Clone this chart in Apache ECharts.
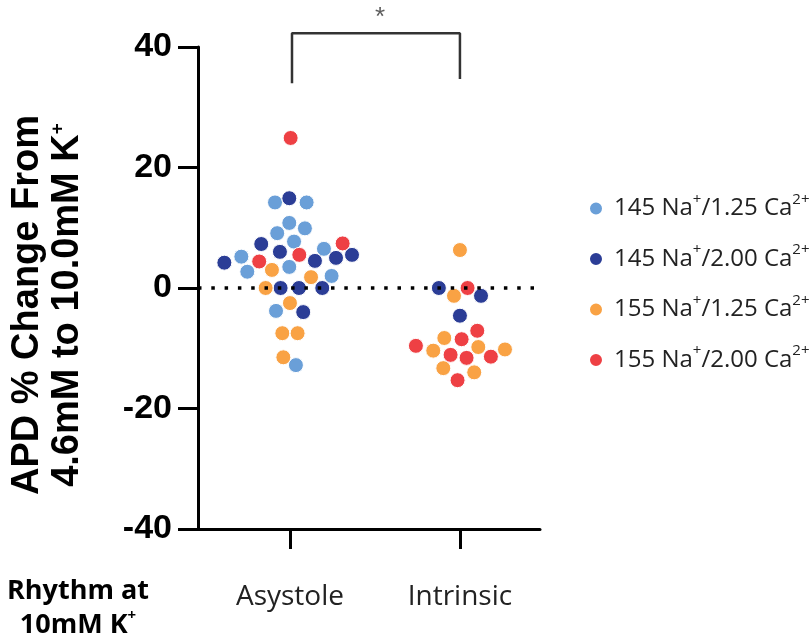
<!DOCTYPE html>
<html>
<head>
<meta charset="utf-8">
<script src="https://cdn.jsdelivr.net/npm/echarts@6/dist/echarts.min.js"></script>
<style>html,body{margin:0;padding:0;background:#fff}#c{width:809px;height:642px}</style>
</head>
<body>
<div id="c"></div>
<script>
// Categories (x positions 1 and 2); points jittered horizontally as in the beeswarm
const categories = ['Asystole', 'Intrinsic'];
const seriesNames = ['145 Na+/1.25 Ca2+', '145 Na+/2.00 Ca2+', '155 Na+/1.25 Ca2+', '155 Na+/2.00 Ca2+'];
const seriesColors = ['#6a9fd8', '#2b3d96', '#f9a244', '#ee4044'];
const yTicks = [-40, -20, 0, 20, 40];

// [x (category position + jitter), APD % change]
const na145ca125 = [
  [0.912, 14.2], [1.098, 14.2], [0.996, 10.8], [0.925, 9.1], [1.088, 9.9],
  [1.024, 7.7], [1.200, 6.5], [0.714, 5.2], [0.749, 2.7], [0.996, 3.5],
  [1.245, 2.0], [0.918, -3.8], [1.035, -12.8]
];
const na145ca200 = [
  [0.996, 14.9], [0.831, 7.3], [0.941, 6.0], [1.147, 4.5], [1.271, 5.0],
  [1.365, 5.5], [0.614, 4.2], [0.945, 0.0], [1.053, 0.0], [1.190, 0.0],
  [1.078, -4.0],
  [1.876, 0.0], [2.124, -1.3], [2.000, -4.6]
];
const na155ca125 = [
  [0.894, 3.0], [1.124, 1.8], [0.857, 0.0], [1.000, -2.5], [0.955, -7.5],
  [1.045, -7.5], [0.961, -11.5],
  [2.000, 6.3], [1.965, -1.3], [1.908, -8.3], [1.843, -10.4], [2.108, -9.8],
  [2.265, -10.2], [1.902, -13.3], [2.084, -14.0]
];
const na155ca200 = [
  [1.004, 24.9], [1.310, 7.4], [1.055, 5.5], [0.819, 4.4],
  [2.045, 0.0], [2.102, -7.1], [2.010, -8.5], [1.741, -9.6], [1.945, -11.1],
  [2.039, -11.6], [2.182, -11.4], [1.986, -15.3]
];
const seriesData = [na145ca125, na145ca200, na155ca125, na155ca200];

// x-axis extent and zero reference line
const xMin = 0.459, xMax = 2.471;
const zeroLine = [[xMin, 0], [xMax, 0]];

// significance bracket between the two groups
const bracket = [[1.012, 34.0], [1.012, 42.3], [2.0, 42.3], [2.0, 34.7]];
const starPos = [[1.53, 44.8]];

const chart = echarts.init(document.getElementById('c'), null, {renderer: 'canvas'});

const scatterSeries = seriesData.map((d, i) => ({
  type: 'scatter',
  name: seriesNames[i],
  data: d,
  symbol: 'circle',
  symbolSize: 15,
  itemStyle: {color: seriesColors[i], borderColor: '#fff', borderWidth: 1, opacity: 1},
  z: 2 + i
}));

chart.setOption({
  animation: false,
  backgroundColor: '#fff',
  grid: {left: 198, top: 47, right: 269, bottom: 113},
  xAxis: {
    type: 'value',
    min: xMin, max: xMax,
    axisLine: {show: true, onZero: false, lineStyle: {color: '#000', width: 3}},
    axisTick: {show: true, customValues: [1, 2], length: 20, lineStyle: {color: '#000', width: 3}},
    axisLabel: {
      show: true, customValues: [1, 2], margin: 54,
      formatter: v => categories[Math.round(v) - 1],
      fontFamily: 'Open Sans', fontSize: 28, color: '#222'
    },
    splitLine: {show: false}
  },
  yAxis: {
    type: 'value',
    min: -40, max: 40, interval: 20,
    axisLine: {show: true, onZero: false, lineStyle: {color: '#000', width: 3}},
    axisTick: {show: true, length: 20, lineStyle: {color: '#000', width: 3}},
    axisLabel: {
      margin: 26, fontFamily: 'Liberation Sans', fontWeight: 'bold', fontSize: 34, color: '#000'
    },
    splitLine: {show: false},
    name: '{t|APD % Change From}\n{t|4.6mM to 10.0mM K}{ts|+}',
    nameLocation: 'middle',
    nameRotate: 90,
    nameGap: 110,
    nameTextStyle: {
      padding: [0, 34, 0, 0],
      rich: {
        t: {fontFamily: 'Liberation Sans', fontWeight: 'bold', fontSize: 38, color: '#000', lineHeight: 40},
        ts: {fontFamily: 'Liberation Sans', fontWeight: 'bold', fontSize: 19, color: '#000', lineHeight: 40, verticalAlign: 'top', padding: [0, 0, 22, 0]}
      }
    }
  },
  legend: {
    orient: 'vertical',
    left: 583, top: 187,
    itemWidth: 26, itemHeight: 14, itemGap: 22,
    icon: 'circle',
    data: seriesNames,
    formatter: name => {
      const m = name.match(/^(\d+) Na\+\/([\d.]+) Ca2\+$/);
      return '{n|' + m[1] + ' Na}{s|+}{n|/' + m[2] + ' Ca}{s|2+}';
    },
    textStyle: {
      rich: {
        n: {fontFamily: 'Open Sans', fontSize: 24, color: '#222', lineHeight: 33},
        s: {fontFamily: 'Open Sans', fontSize: 15, color: '#222', lineHeight: 33, verticalAlign: 'top', padding: [0, 0, 12, 0]}
      }
    }
  },
  graphic: [{
    type: 'text',
    left: 7, top: 578,
    style: {
      text: '{b|Rhythm at}\n{b|10mM K}{bs|+}',
      align: 'center',
      rich: {
        b: {fontFamily: 'Open Sans', fontWeight: 'bold', fontSize: 27, color: '#222', lineHeight: 34, align: 'center'},
        bs: {fontFamily: 'Open Sans', fontWeight: 'bold', fontSize: 15, color: '#222', lineHeight: 34, verticalAlign: 'top', padding: [0, 0, 14, 0]}
      }
    }
  }],
  series: scatterSeries.concat([
    {
      type: 'line',
      data: zeroLine,
      symbol: 'none',
      silent: true,
      lineStyle: {color: '#000', width: 3.5, type: [3.5, 9.8]},
      z: 10
    },
    {
      type: 'line',
      data: bracket,
      symbol: 'none',
      clip: false,
      silent: true,
      lineStyle: {color: '#333', width: 2.5},
      z: 1
    },
    {
      type: 'scatter',
      data: starPos,
      symbolSize: 1,
      clip: false,
      silent: true,
      itemStyle: {color: 'rgba(0,0,0,0)'},
      label: {show: true, position: 'inside', formatter: '*', fontFamily: 'Liberation Sans', fontSize: 26, color: '#333'}
    }
  ])
});
</script>
</body>
</html>
